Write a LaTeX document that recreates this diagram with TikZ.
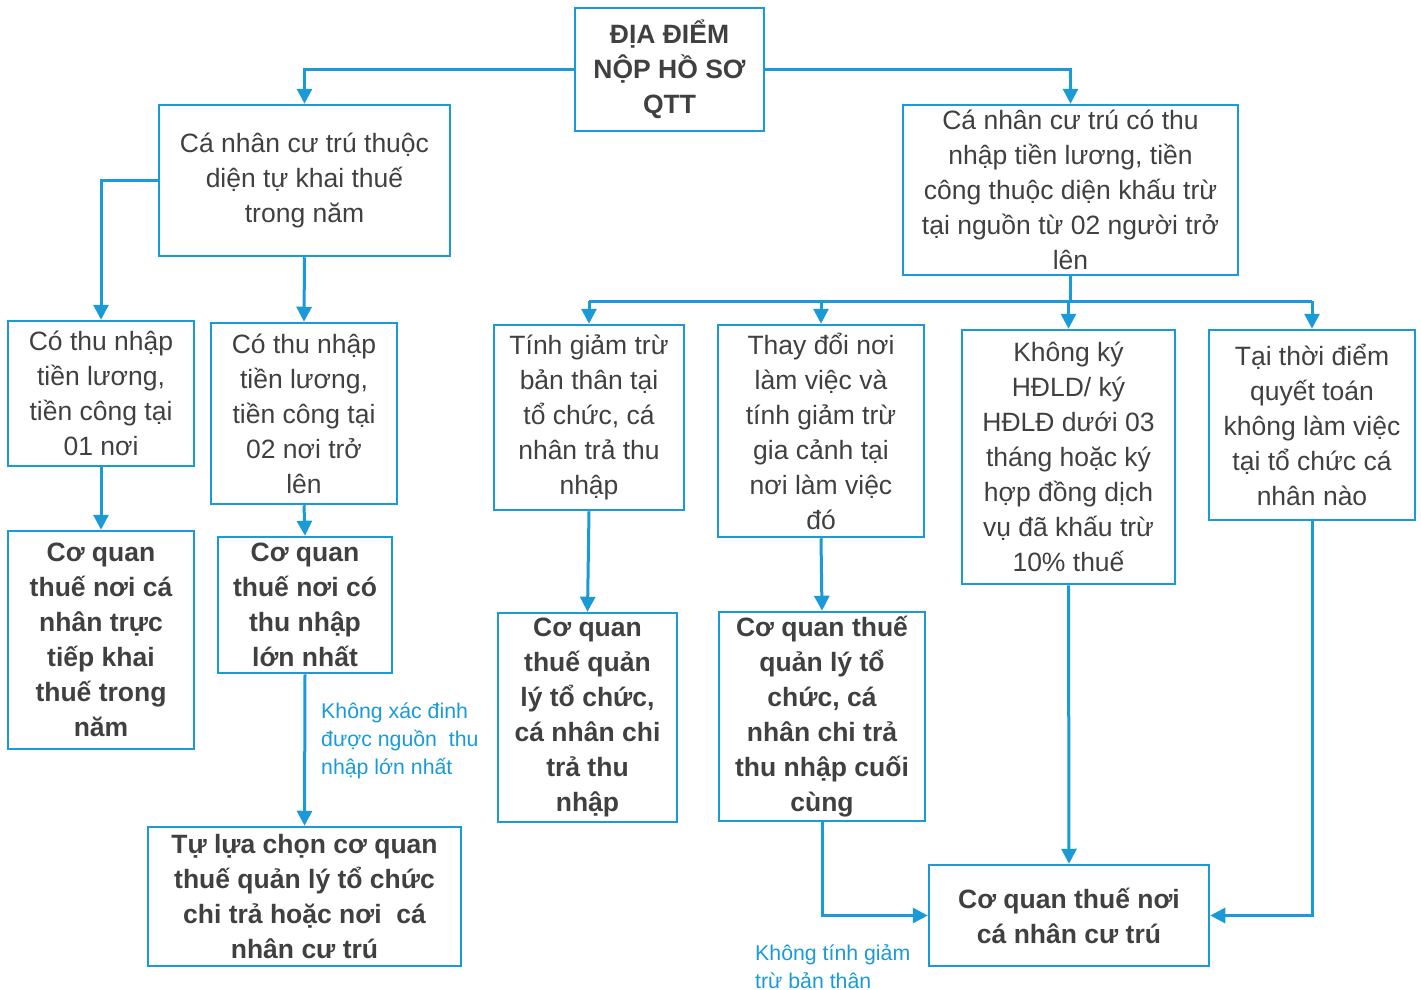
\documentclass[tikz,border=0pt]{standalone}
\usepackage{fontspec}
\setmainfont{Liberation Sans}
\usetikzlibrary{arrows.meta}
\definecolor{lineblue}{HTML}{1A9AD6}
\definecolor{txtgray}{HTML}{404040}
\begin{document}
\begin{tikzpicture}[x=1pt,y=-1pt,
  box/.style={draw=lineblue, line width=2.5pt, text=txtgray, align=center,
    font=\fontsize{26.5}{35}\selectfont, inner sep=0pt},
  bbox/.style={box, font=\fontsize{26.5}{35}\selectfont\bfseries},
  plain/.style={draw=lineblue, line width=3pt},
  conn/.style={plain, -{Triangle[length=15pt,width=15pt]}},
  lab/.style={text=lineblue, align=left, font=\fontsize{21.3}{28}\selectfont,
    anchor=north west, inner sep=0pt}]
\useasboundingbox (0,0) rectangle (1421,990);

% boxes
\node[bbox, minimum width=189pt, minimum height=123pt] (top) at (669.5,69.5)
  {ĐỊA ĐIỂM\\NỘP HỒ SƠ\\QTT};
\node[box, minimum width=291pt, minimum height=151pt] (l1) at (304.5,180.5)
  {Cá nhân cư trú thuộc\\diện tự khai thuế\\trong năm};
\node[box, minimum width=335pt, minimum height=170pt] (r1) at (1070.5,190)
  {Cá nhân cư trú có thu\\nhập tiền lương, tiền\\công thuộc diện khấu trừ\\tại nguồn từ 02 người trở\\lên};
\node[box, minimum width=186pt, minimum height=145pt] (la) at (101,393.5)
  {Có thu nhập\\tiền lương,\\tiền công tại\\01 nơi};
\node[box, minimum width=186pt, minimum height=181pt] (lb) at (304,413.5)
  {Có thu nhập\\tiền lương,\\tiền công tại\\02 nơi trở\\lên};
\node[bbox, minimum width=186pt, minimum height=218pt] (lac) at (101,640)
  {Cơ quan\\thuế nơi cá\\nhân trực\\tiếp khai\\thuế trong\\năm};
\node[bbox, minimum width=174pt, minimum height=136pt] (lbc) at (305,605)
  {Cơ quan\\thuế nơi có\\thu nhập\\lớn nhất};
\node[bbox, minimum width=313pt, minimum height=139pt] (bl) at (304.5,896.5)
  {Tự lựa chọn cơ quan\\thuế quản lý tổ chức\\chi trả hoặc nơi\ \ cá\\nhân cư trú};
\node[box, minimum width=190pt, minimum height=185pt] (ra) at (589,417.5)
  {Tính giảm trừ\\bản thân tại\\tổ chức, cá\\nhân trả thu\\nhập};
\node[box, minimum width=206pt, minimum height=212pt] (rb) at (821,431)
  {Thay đổi nơi\\làm việc và\\tính giảm trừ\\gia cảnh tại\\nơi làm việc\\đó};
\node[box, minimum width=213pt, minimum height=254pt] (rc) at (1068.5,457)
  {Không ký\\HĐLD/ ký\\HĐLĐ dưới 03\\tháng hoặc ký\\hợp đồng dịch\\vụ đã khấu trừ\\10\% thuế};
\node[box, minimum width=206pt, minimum height=190pt] (rd) at (1312,425)
  {Tại thời điểm\\quyết toán\\không làm việc\\tại tổ chức cá\\nhân nào};
\node[bbox, minimum width=179pt, minimum height=209pt] (rac) at (587.5,717.5)
  {Cơ quan\\thuế quản\\lý tổ chức,\\cá nhân chi\\trả thu\\nhập};
\node[bbox, minimum width=206pt, minimum height=209pt] (rbc) at (822,716.5)
  {Cơ quan thuế\\quản lý tổ\\chức, cá\\nhân chi trả\\thu nhập cuối\\cùng};
\node[bbox, minimum width=280pt, minimum height=101pt] (fin) at (1069,915.5)
  {Cơ quan thuế nơi\\cá nhân cư trú};

% labels
\node[lab] (labA) at (321,703) {Không xác đinh\\được nguồn\ \ thu\\nhập lớn nhất};
\node[lab] (labB) at (755,944) {Không tính giảm\\trừ bản thân};

% connectors
\draw[conn] (top.west) -| (l1.north);
\draw[conn] (top.east) -| (r1.north);
\draw[conn] (l1.west) -| (la.north);
\draw[conn] (l1.south) -- (lb.north);
\draw[conn] (la.south) -- (lac.north);
\draw[conn] (lb.south) -- (lbc.north);
\draw[conn] (lbc.south) -- (bl.north);

\coordinate (br) at (1070.5,301);
\draw[plain] (r1.south) -- (br);
\draw[plain] (ra.north |- br) -- (rd.north |- br);
\draw[conn] (ra.north |- br) -- (ra.north);
\draw[conn] (rb.north |- br) -- (rb.north);
\draw[conn] (rc.north |- br) -- (rc.north);
\draw[conn] (rd.north |- br) -- (rd.north);

\draw[conn] (ra.south) -- (rac.north);
\draw[conn] (rb.south) -- (rbc.north);
\draw[conn] (rc.south) -- (fin.north);
\draw[conn] (rbc.south) |- (fin.west);
\draw[conn] (rd.south) |- (fin.east);
\end{tikzpicture}
\end{document}
